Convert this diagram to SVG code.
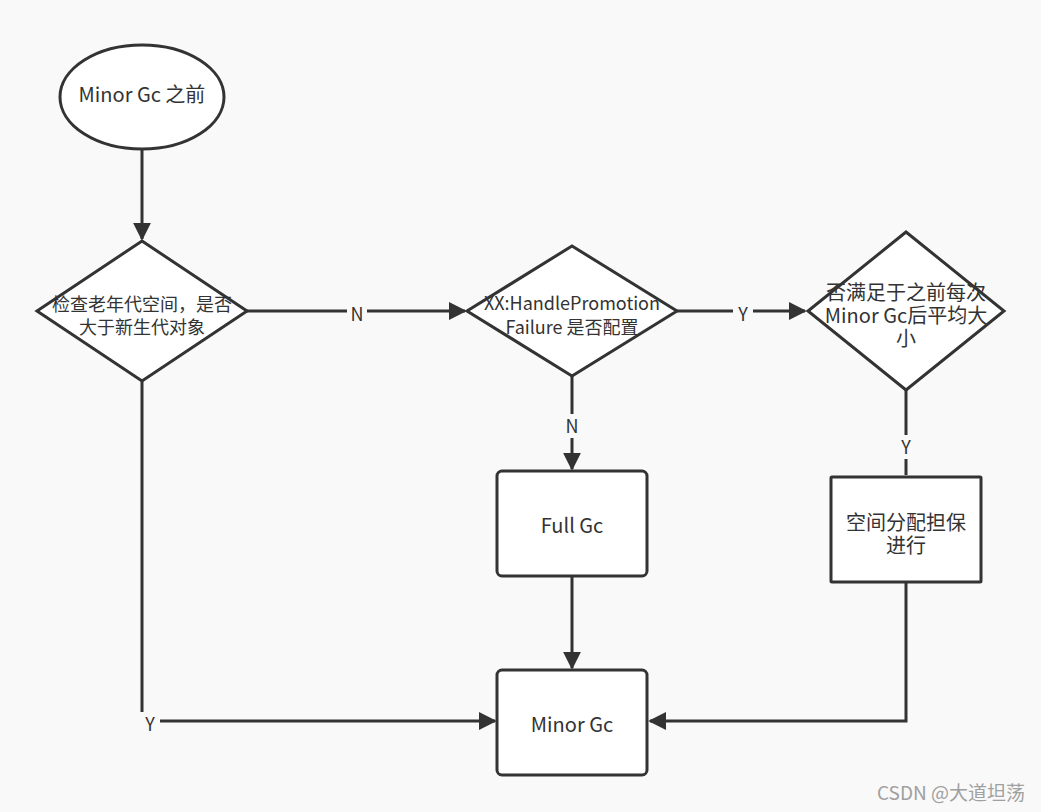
<svg xmlns="http://www.w3.org/2000/svg" width="1041" height="812" viewBox="0 0 1041 812">
<defs>
<style>
.s{fill:#fff;stroke:#333;stroke-width:3}
.t{font-family:"Noto Sans CJK SC","Microsoft YaHei",sans-serif;font-size:20px;fill:#333;text-anchor:middle}
.d{font-size:18px}
.c{fill:none;stroke:#333;stroke-width:3}
.lb{fill:#f9f9f9}
.l{font-family:"Noto Sans CJK SC",sans-serif;font-size:18px;fill:#333;text-anchor:middle}
</style>
<marker id="a" viewBox="0 0 10 10" refX="9" refY="5" markerWidth="6" markerHeight="6" markerUnits="strokeWidth" orient="auto">
<path d="M0,0 L10,5 L0,10 z" fill="#333"/>
</marker>
</defs>
<rect width="1041" height="812" fill="#f9f9f9"/>
<g id="connectors">
<path class="c" d="M142,149 V239" marker-end="url(#a)"/>
<path class="c" d="M247,311 H465" marker-end="url(#a)"/>
<path class="c" d="M677,311 H805" marker-end="url(#a)"/>
<path class="c" d="M572,376 V469" marker-end="url(#a)"/>
<path class="c" d="M572,576 V668" marker-end="url(#a)"/>
<path class="c" d="M906,390 V475"/>
<path class="c" d="M906,582 V721 H650" marker-end="url(#a)"/>
<path class="c" d="M142,381 V721 H495" marker-end="url(#a)"/>
<rect class="lb" x="347" y="302" width="20" height="24"/>
<text class="l" x="357" y="321">N</text>
<rect class="lb" x="733" y="302" width="20" height="24"/>
<text class="l" x="743" y="321">Y</text>
<rect class="lb" x="562" y="414" width="20" height="24"/>
<text class="l" x="572" y="433">N</text>
<rect class="lb" x="896" y="435" width="20" height="24"/>
<text class="l" x="906" y="454">Y</text>
<rect class="lb" x="140" y="712" width="20" height="24"/>
<text class="l" x="150" y="731">Y</text>
</g>
<g id="start">
<ellipse class="s" cx="142" cy="97" rx="82" ry="52"/>
<text class="t" x="142" y="102">Minor Gc 之前</text>
</g>
<g id="check-old">
<polygon class="s" points="142,241 247,311 142,381 37,311"/>
<text class="t d" x="142" y="311">检查老年代空间，是否</text>
<text class="t d" x="142" y="334">大于新生代对象</text>
</g>
<g id="handle-promotion">
<polygon class="s" points="572,246 677,311 572,376 467,311"/>
<text class="t d" x="572" y="310">XX:HandlePromotion</text>
<text class="t d" x="572" y="334">Failure 是否配置</text>
</g>
<g id="avg-size">
<polygon class="s" points="906,232 1004,311 906,390 808,311"/>
<text class="t" x="906" y="300" font-size="19">否满足于之前每次</text>
<text class="t" x="906" y="323" font-size="19">Minor Gc后平均大</text>
<text class="t" x="906" y="346" font-size="19">小</text>
</g>
<g id="full-gc">
<rect class="s" x="497" y="471" width="150" height="105" rx="5"/>
<text class="t" x="572" y="533">Full Gc</text>
</g>
<g id="guarantee">
<rect class="s" x="831" y="477" width="150" height="105" rx="1"/>
<text class="t" x="906" y="530">空间分配担保</text>
<text class="t" x="906" y="553">进行</text>
</g>
<g id="minor-gc">
<rect class="s" x="497" y="670" width="150" height="105" rx="5"/>
<text class="t" x="572" y="732">Minor Gc</text>
</g>
<text x="1025" y="800" font-family="Noto Sans CJK SC,sans-serif" font-size="19" fill="#a0a0a0" text-anchor="end">CSDN @大道坦荡</text>
</svg>
